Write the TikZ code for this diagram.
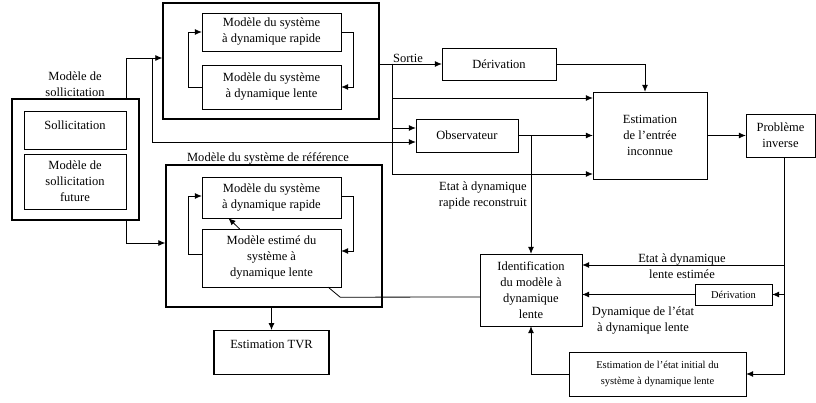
\documentclass[tikz,border=0pt]{standalone}
\usepackage{fontspec}
\setmainfont{Liberation Serif}
\usetikzlibrary{arrows.meta, positioning, calc}

\begin{document}
\begin{tikzpicture}[
    x=1pt, y=-1pt,
    box/.style={draw, align=center, inner sep=2pt, font=\fontsize{12.5}{16}\selectfont},
    outer_box/.style={draw, line width=1.4pt, inner sep=0pt},
    small_box/.style={box, font=\fontsize{10.5}{16}\selectfont},
    lbl/.style={align=center, inner sep=1pt, font=\fontsize{12.5}{16}\selectfont},
    arrow/.style={-{Latex[length=7pt,width=6pt]}, line width=0.8pt},
    line/.style={line width=0.8pt}
]
    \useasboundingbox (0,0) rectangle (816,403);

    % Sollicitation
    \node[lbl] (soll_title) at (75,84) {Modèle de\\sollicitation};
    \node[outer_box, minimum width=127pt, minimum height=121pt] (soll) at (75.5,159.5) {};
    \node[box, anchor=north, minimum width=102pt, text height=16pt, text depth=18pt] (sollin) at (75,111) {Sollicitation};
    \node[box, minimum width=102pt, minimum height=55pt] (fut) at (75,181.5) {Modèle de\\sollicitation\\future};

    % Systeme reel
    \node[outer_box, minimum width=216pt, minimum height=116pt] (sys) at (271,61) {};
    \node[box, minimum width=139pt, minimum height=38pt] (rap1) at (271.5,32) {Modèle du système\\à dynamique rapide};
    \node[box, minimum width=139pt, minimum height=44pt] (len1) at (271.5,87) {Modèle du système\\à dynamique lente};

    % Systeme de reference
    \node[lbl] (ref_title) at (268,158) {Modèle du système de référence};
    \node[outer_box, minimum width=216pt, minimum height=142pt] (ref) at (274,236) {};
    \node[box, minimum width=139pt, minimum height=41pt] (rap2) at (271.5,197.5) {Modèle du système\\à dynamique rapide};
    \node[box, minimum width=139pt, minimum height=58pt] (len2) at (271.5,258) {Modèle estimé du\\système à\\dynamique lente};
    \node[box, line width=1.2pt, anchor=north, minimum width=115pt, text height=16pt, text depth=24pt] (tvr) at (271.5,330) {Estimation TVR};

    % Estimation
    \node[box, minimum width=114pt, minimum height=32pt] (der1) at (499,64) {Dérivation};
    \node[box, minimum width=102pt, minimum height=33pt] (obs) at (467,135.5) {Observateur};
    \node[box, minimum width=114pt, minimum height=87pt] (est) at (650,135.5) {Estimation\\de l'entrée\\inconnue};
    \node[box, minimum width=69pt, minimum height=43pt] (prob) at (780.5,135.5) {Problème\\inverse};
    \node[box, minimum width=102pt, minimum height=72pt] (ident) at (531,290) {Identification\\du modèle à\\dynamique\\lente};
    \node[small_box, minimum width=77pt, minimum height=21pt] (der2) at (733.5,294.5) {Dérivation};
    \node[small_box, minimum width=177pt, minimum height=44pt] (init) at (657.5,374) {Estimation de l'état initial du\\système à dynamique lente};

    % Labels
    \node[lbl, anchor=south] (sortie) at (408,64) {Sortie};
    \node[lbl, anchor=east] (rapide_lbl) at (528,195) {Etat à dynamique\\rapide reconstruit};
    \node[lbl] (lente_lbl) at (682,266) {Etat à dynamique\\lente estimée};
    \node[lbl] (dyn_lbl) at (643,321) {Dynamique de l'état\\à dynamique lente};

    \coordinate (b1) at (152,58);
    \coordinate (bus) at (392,64);
    \coordinate (pb) at ([xshift=4pt]prob.south);

    % Sollicitation vers systemes
    \draw[arrow] (soll.north -| sollin.east) |- ([yshift=3pt]sys.west);
    \draw[arrow] (b1) |- ([yshift=-6.5pt]obs.west);
    \draw[arrow] (soll.south -| fut.east) |- ([yshift=-7pt]ref.west);

    % Boucles internes
    \draw[arrow] (len1.west) -- ++(-13,0) |- (rap1.west);
    \draw[arrow] (rap1.east) -- ++(12,0) |- (len1.east);
    \draw[arrow] ([yshift=4pt]len2.west) -- ++(-13,0) |- ([yshift=1.5pt]rap2.west);
    \draw[arrow] ([yshift=1.5pt]rap2.east) -- ++(12,0) |- ([yshift=7pt]len2.east);
    \draw[arrow] ([xshift=-32pt]len2.north) -- ([xshift=-43pt]rap2.south);
    \draw[line] ([xshift=-13pt]len2.south east) -- ++(12,10) -- ([yshift=-7pt]ident.west);
    \draw[arrow] (tvr.north |- ref.south) -- (tvr.north);

    % Sortie
    \draw[arrow] ([yshift=-3pt]sys.east) -- (der1.west);
    \draw[arrow] (bus) |- ([yshift=37.5pt]est.west);
    \draw[arrow] (bus) |- ([yshift=7.5pt]obs.west);
    \draw[arrow] (bus) |- ([yshift=-38.5pt]est.west);
    \draw[arrow] (der1.east) -| ([xshift=-5pt]est.north);
    \draw[arrow] (obs) -- (est);
    \draw[arrow] (obs.east -| ident.north) -- (ident.north);
    \draw[arrow] (est) -- (prob);

    % Probleme inverse
    \draw[arrow] (pb) |- (init.east);
    \draw[arrow] ([yshift=25pt]ident.east -| pb) -- ([yshift=25pt]ident.east);
    \draw[arrow] (der2.east -| pb) -- (der2.east);
    \draw[arrow] (der2.west) -- (der2.west -| ident.east);
    \draw[arrow] (init.west) -| (ident.south);

\end{tikzpicture}
\end{document}
